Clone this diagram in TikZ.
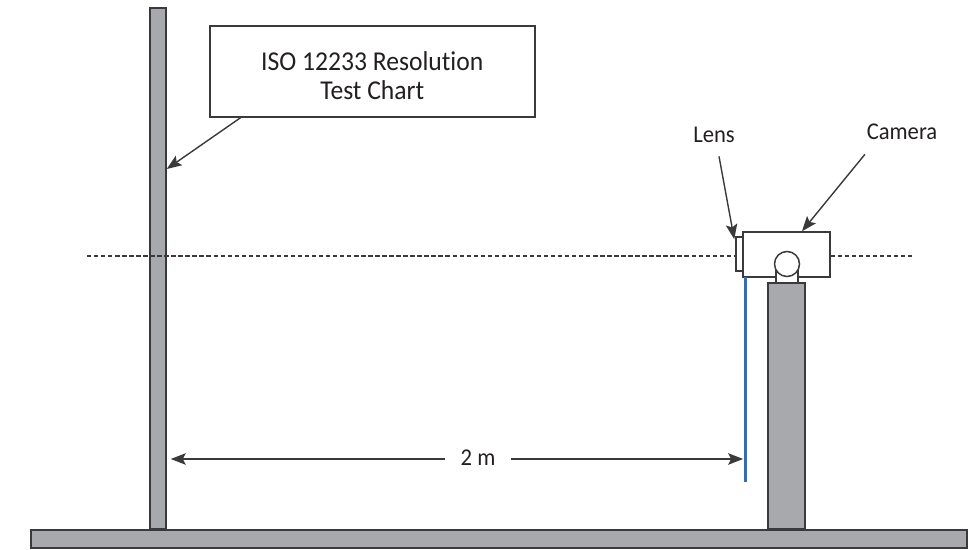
\documentclass[tikz,border=0pt]{standalone}
\usepackage{fontspec}
\setmainfont[FakeStretch=0.94,Ligatures=CommonOff]{Carlito}
\usetikzlibrary{arrows.meta,shapes}
\definecolor{metal}{HTML}{A7A9AC}
\definecolor{inkline}{HTML}{3A3A3C}
\definecolor{inktext}{HTML}{231F20}
\definecolor{rayblue}{HTML}{2F6EBA}
\tikzstyle{solid part}=[rectangle,draw=inkline,fill=metal,line width=0.85pt,inner sep=0pt]
\tikzstyle{open part}=[rectangle,draw=inkline,fill=white,line width=0.85pt,inner sep=0pt]
\tikzstyle{labeltext}=[text=inktext,font=\fontsize{13.7}{17}\selectfont,inner sep=0pt,align=center]
\tikzstyle{charttext}=[text=inktext,font=\fontsize{15.5}{17}\selectfont,align=center]
\tikzstyle{callout}=[-{Stealth[length=3mm,width=2.3mm,inset=0.6mm]},draw=inkline,line width=0.8pt]
\tikzstyle{axisline}=[draw=inkline,line width=0.6pt,dash pattern=on 2.5pt off 1.5pt]

\begin{document}
\begin{tikzpicture}
\useasboundingbox (0,0) rectangle (19.4,11);
\coordinate (axisL) at (1.74,5.88);
\coordinate (axisR) at (18.24,5.88);
\node[solid part,minimum width=18.72cm,minimum height=0.36cm] (base) at (9.98,0.22) {};
\node[solid part,minimum width=0.32cm,minimum height=10.42cm] (post) at (3.16,5.63) {};
\node[open part,minimum width=1.74cm,minimum height=0.9cm] (camera) at (15.73,5.91) {};
\node[open part,minimum width=0.44cm,minimum height=0.3cm] (neck) at (15.74,5.49) {};
\node[solid part,minimum width=0.74cm,minimum height=4.92cm] (stand) at (15.73,2.88) {};
\node[open part,minimum width=0.14cm,minimum height=0.68cm] (lens) at (14.79,5.92) {};
\node[open part,circle,minimum size=0.5cm] (ball) at (15.74,5.72) {};
\node[rectangle,fill=rayblue,minimum width=0.06cm,minimum height=4.1cm,inner sep=0pt] (ray) at (14.9,3.41) {};
\node[open part,charttext,minimum width=6.5cm,minimum height=1.82cm] (chart) at (7.445,9.57) {\rule{0pt}{15.5pt}ISO 12233 Resolution\\Test Chart};
\node[labeltext,minimum height=0.84cm] (lenstext) at (14.28,8.3) {Lens};
\node[labeltext,minimum height=0.88cm,inner xsep=0.03cm] (cameratext) at (18.04,8.36) {Camera};
\node[labeltext,minimum width=1.3cm,minimum height=0.4cm] (dist) at (9.56,1.82) {\raisebox{0.04cm}{2 m}};
\draw[axisline] (axisL)--(lens.west |- axisL);
\draw[axisline] (camera.east |- axisR)--(axisR);
\draw[callout] ([xshift=0.63cm]chart.south west)--([yshift=1.99cm]post.east);
\draw[callout] ([xshift=0.1cm]lenstext.south)--([xshift=-0.02cm,yshift=-0.06cm]lens.north west);
\draw[callout] (cameratext.south west)--([xshift=0.31cm]camera.north);
\draw[callout,shorten >=0.08cm] (dist.west)--(post.east |- dist);
\draw[callout] (dist.east)--(ray.west |- dist);
\end{tikzpicture}
\end{document}
